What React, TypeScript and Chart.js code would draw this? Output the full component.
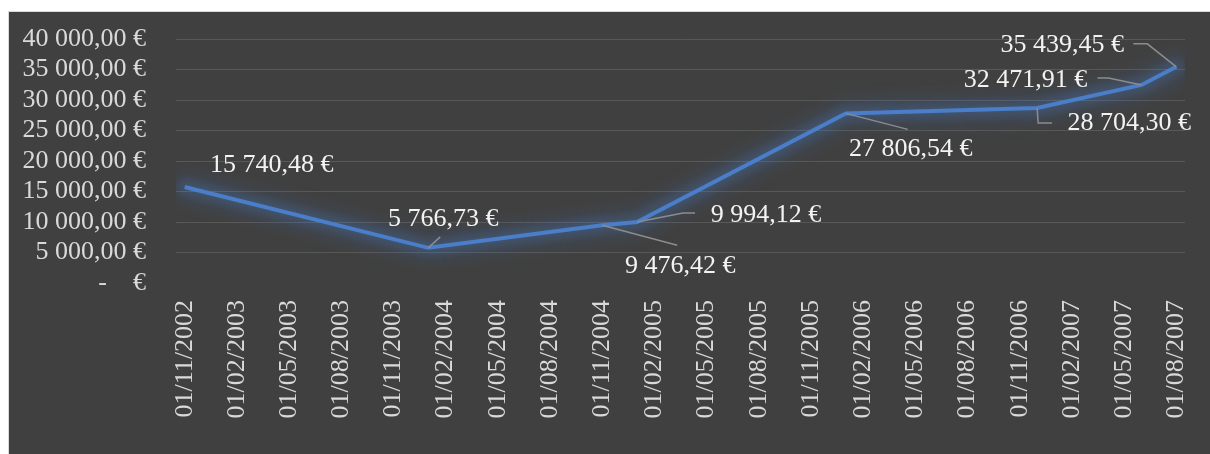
import React, { useEffect, useRef } from "react";
import { Chart, registerables } from "chart.js";

Chart.register(...registerables);

// ---- data ----
const pointDates = ["01/11/2002", "01/01/2004", "01/11/2004", "01/01/2005", "01/01/2006", "01/12/2006", "01/06/2007", "01/08/2007"];
const pointValues = [15740.48, 5766.73, 9476.42, 9994.12, 27806.54, 28704.3, 32471.91, 35439.45];
const xTickLabels = [
  "01/11/2002", "01/02/2003", "01/05/2003", "01/08/2003", "01/11/2003",
  "01/02/2004", "01/05/2004", "01/08/2004", "01/11/2004", "01/02/2005",
  "01/05/2005", "01/08/2005", "01/11/2005", "01/02/2006", "01/05/2006",
  "01/08/2006", "01/11/2006", "01/02/2007", "01/05/2007", "01/08/2007",
];
const yTickValues = [0, 5000, 10000, 15000, 20000, 25000, 30000, 35000, 40000];

// ---- label layout (pixel offsets of label centre / leader line relative to point) ----
const labelOffsets = [[87, -22], [15, -29], [78, 41], [129, -7], [65, 36], [92, 15], [-116, -5], [-114, -22]];
const leaderPaths: number[][][] = [
  [],
  [[0, 0], [12, -11]],
  [[0, 0], [75, 20]],
  [[0, 0], [46, -9], [58, -9]],
  [[0, 0], [62, 16]],
  [[0, 0], [1, 15], [15, 15]],
  [[0, 0], [-33, -7], [-44, -7]],
  [[0, 0], [-29, -23], [-43, -23]],
];

const monthIndex = (d: string) => {
  const [, mm, yy] = d.split("/").map(Number);
  return (yy - 2002) * 12 + (mm - 11);
};
const xTickValues = xTickLabels.map(monthIndex);

const fmtEuro = (v: number) => {
  if (v === 0) return "-    €";
  const [i, d] = v.toFixed(2).split(".");
  return i.replace(/\B(?=(\d{3})+(?!\d))/g, " ") + "," + d + " €";
};

const FONT = "'Liberation Serif', 'Times New Roman', serif";

const glowPlugin = {
  id: "glow",
  beforeDatasetDraw(chart: any) {
    const ctx = chart.ctx;
    const pts = chart.getDatasetMeta(0).data;
    const a = chart.chartArea;
    ctx.save();
    ctx.beginPath();
    ctx.rect(a.left, a.top - 10, a.right - a.left, a.bottom - a.top + 10);
    ctx.clip();
    const passes = [
      [26, "rgba(70,125,205,0.16)", 8],
      [14, "rgba(70,125,205,0.2)", 4],
    ];
    passes.forEach(([w, c, b]: any) => {
      ctx.filter = `blur(${b}px)`;
      ctx.strokeStyle = c;
      ctx.lineWidth = w;
      ctx.lineJoin = "round";
      ctx.lineCap = "round";
      ctx.beginPath();
      pts.forEach((p: any, k: number) => (k === 0 ? ctx.moveTo(p.x, p.y) : ctx.lineTo(p.x, p.y)));
      ctx.stroke();
    });
    ctx.restore();
  },
};

const labelPlugin = {
  id: "pointLabels",
  afterDatasetsDraw(chart: any) {
    const ctx = chart.ctx;
    const meta = chart.getDatasetMeta(0);
    ctx.save();
    meta.data.forEach((pt: any, i: number) => {
      const path = leaderPaths[i];
      if (path.length > 1) {
        ctx.beginPath();
        ctx.strokeStyle = "#8c8c8c";
        ctx.lineWidth = 1.5;
        path.forEach(([dx, dy], k) => {
          if (k === 0) ctx.moveTo(pt.x + dx, pt.y + dy);
          else ctx.lineTo(pt.x + dx, pt.y + dy);
        });
        ctx.stroke();
      }
      const [ox, oy] = labelOffsets[i];
      ctx.font = `26px ${FONT}`;
      ctx.fillStyle = "#f2f2f2";
      ctx.textAlign = "center";
      ctx.textBaseline = "middle";
      ctx.fillText(fmtEuro(pointValues[i]), pt.x + ox, pt.y + oy);
    });
    ctx.restore();
  },
};

export default function App() {
  const ref = useRef<HTMLCanvasElement>(null);
  useEffect(() => {
    if (!ref.current) return;
    const chart = new Chart(ref.current, {
      type: "line",
      data: {
        datasets: [
          {
            data: pointDates.map((d, i) => ({ x: monthIndex(d), y: pointValues[i] })),
            borderColor: "#4a7ec8",
            borderWidth: 4,
            pointRadius: 0,
            tension: 0,
            fill: false,
          },
        ],
      },
      options: {
        animation: false,
        responsive: false,
        devicePixelRatio: 1,
        layout: { padding: { top: 27, right: 25, left: 0, bottom: 0 } },
        plugins: { legend: { display: false }, tooltip: { enabled: false } },
        scales: {
          x: {
            type: "linear",
            min: -0.5,
            max: 57.5,
            afterBuildTicks: (s: any) => {
              s.ticks = xTickValues.map((v) => ({ value: v }));
            },
            afterFit: (s: any) => {
              s.height = 171;
              s.paddingLeft = 0;
              s.paddingRight = 0;
              s.paddingTop = 0;
              s.paddingBottom = 0;
            },
            grid: { display: false, drawTicks: false },
            border: { display: false },
            ticks: {
              autoSkip: false,
              maxRotation: 90,
              minRotation: 90,
              padding: 17,
              color: "#d9d9d9",
              font: { family: FONT, size: 26 },
              callback: (v: any) => {
                const k = xTickValues.indexOf(Number(v));
                return k >= 0 ? xTickLabels[k] : "";
              },
            },
          },
          y: {
            min: 0,
            max: 40000,
            afterBuildTicks: (s: any) => {
              s.ticks = yTickValues.map((v) => ({ value: v }));
            },
            afterFit: (s: any) => {
              s.width = 167;
              s.paddingLeft = 0;
              s.paddingRight = 0;
              s.paddingTop = 0;
              s.paddingBottom = 0;
            },
            grid: {
              drawTicks: false,
              color: (c: any) => (c.tick && c.tick.value === 0 ? "rgba(0,0,0,0)" : "#585858"),
              lineWidth: 1,
            },
            border: { display: false },
            ticks: {
              autoSkip: false,
              padding: 30,
              color: "#d9d9d9",
              font: { family: FONT, size: 26 },
              callback: (v: any) => fmtEuro(Number(v)),
            },
          },
        },
      },
      plugins: [glowPlugin, labelPlugin],
    });
    return () => chart.destroy();
  }, []);

  return (
    <div
      style={{
        position: "fixed",
        left: 8,
        top: 11,
        width: 1202,
        height: 443,
        boxSizing: "border-box",
        borderLeft: "1px solid #d9d9d9",
        borderTop: "1px solid #d9d9d9",
        background: "#404040",
      }}
    >
      <canvas ref={ref} width={1201} height={442} style={{ display: "block", width: 1201, height: 442 }} />
    </div>
  );
}
